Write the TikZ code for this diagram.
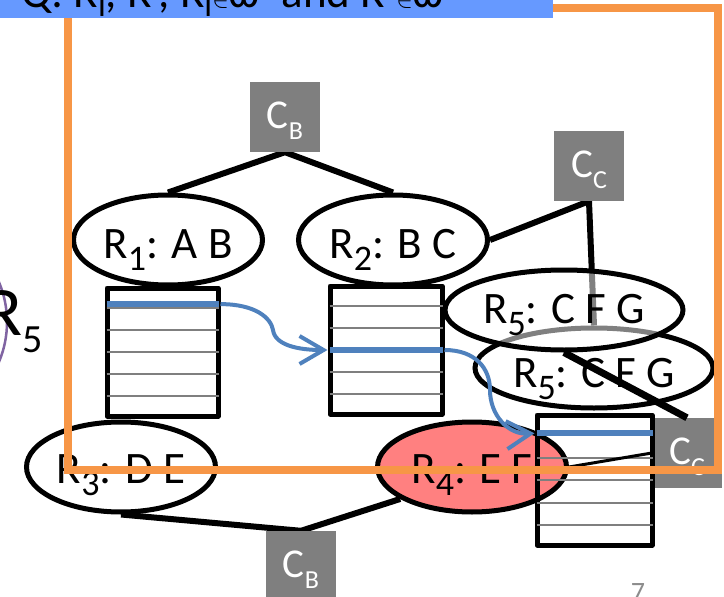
\documentclass[tikz,border=0pt]{standalone}
\usepackage{fontspec}
\setmainfont{Carlito}
\usetikzlibrary{shapes.geometric,arrows.meta,calc}

\definecolor{boxgray}{RGB}{127,127,127}
\definecolor{flowblue}{RGB}{79,129,189}
\definecolor{bannerblue}{RGB}{102,153,255}
\definecolor{frameorange}{RGB}{247,150,70}
\definecolor{relred}{RGB}{255,128,128}
\definecolor{arcpurple}{RGB}{128,100,162}
\definecolor{pagegray}{RGB}{140,140,140}

\pgfdeclarelayer{back}
\pgfsetlayers{back,main}

% relation label: baseline offset, subscript, attributes
\newcommand{\rlab}[3]{\makebox[0pt][c]{\raisebox{-#1}[0pt][0pt]{R\raisebox{-12pt}{\fontsize{36}{36}\selectfont #2}: #3}}}
% separator label C with subscript
\newcommand{\clab}[1]{\makebox[0pt][c]{\raisebox{-11pt}[0pt][0pt]{C\raisebox{-11pt}{\fontsize{26}{26}\selectfont #1}}}}

\begin{document}
\begin{tikzpicture}[x=1pt,y=-1pt,
  rel/.style={ellipse, draw=black, line width=5pt, fill=white, inner sep=0pt,
    minimum width=189pt, minimum height=90pt, font=\fontsize{45}{45}\selectfont},
  relwide/.style={rel, minimum width=238pt, minimum height=80pt},
  cbox/.style={rectangle, fill=boxgray, inner sep=0pt, minimum size=70pt,
    text=white, font=\fontsize{41}{41}\selectfont},
  edge/.style={draw=black, line width=6pt},
  tbl/.style={rectangle, draw=black, line width=5pt, inner sep=0pt, line join=round},
  rowline/.style={draw=boxgray, line width=2pt, shorten <=2pt, shorten >=2pt},
  bluerow/.style={draw=flowblue, line width=6pt, shorten <=2pt, shorten >=2pt},
  flow/.style={draw=flowblue, line width=4pt,
    -{Straight Barb[length=24pt,width=28pt]}},
]
\useasboundingbox (0,0) rectangle (724,597);

% partially visible relation on the left
\node[ellipse, draw=arcpurple, line width=2.5pt, inner sep=0pt,
  minimum width=194pt, minimum height=200pt] (R5left) at (-90,322) {};
\node[anchor=base west, inner sep=0pt, font=\fontsize{70}{70}\selectfont]
  (bigR) at (-16,335) {R\raisebox{-17pt}{\fontsize{40}{40}\selectfont 5}};

% separators
\node[cbox] (CBt) at (285,117) {\clab{B}};
\node[cbox] (CCt) at (589,166) {\clab{C}};
\node[cbox] (CBb) at (301,566) {\clab{B}};
\node[cbox] (CCr) at (687,453) {\clab{C}};

% relations
\node[rel] (R1) at (168,240) {\rlab{18pt}{1}{A B}};
\node[rel] (R2) at (393,240) {\rlab{18pt}{2}{B C}};
\node[rel] (R3) at (121,467) {\rlab{16pt}{3}{D E}};

% tuple tables
\node[tbl, fill=white, minimum width=111pt, minimum height=128pt] (T1) at (162.5,352) {};
\node[tbl, fill=white, minimum width=112pt, minimum height=128pt] (T2) at (386,350) {};
\foreach \t in {T1,T2}{
  \foreach \k in {1,...,5}{
    \draw[rowline] ($(\t.north west)!\k/6!(\t.south west)$) -- ($(\t.north east)!\k/6!(\t.south east)$);
  }
}

\node[rel] (R5b) at (594,368) [relwide] {\rlab{19pt}{5}{C F G}};
\node[rel] (R5a) at (564,310) [relwide, fill opacity=0.5, text opacity=1, draw opacity=1] {\rlab{13pt}{5}{C F G}};

\node[rel, fill=relred] (R4) at (472,467) {\rlab{16pt}{4}{E F}};

% table over R4, left unfilled
\node[tbl, minimum width=115pt, minimum height=130pt] (T3) at (594.5,480) {};
\foreach \k in {1,...,5}{
  \draw[rowline] ($(T3.north west)!\k/6!(T3.south west)$) -- ($(T3.north east)!\k/6!(T3.south east)$);
}

% highlighted tuples and their links
\coordinate (T1bw) at ($(T1.north west)!0.14!(T1.south west)$);
\coordinate (T1be) at ($(T1.north east)!0.14!(T1.south east)$);
\coordinate (T2bw) at ($(T2.north west)!0.5!(T2.south west)$);
\coordinate (T2be) at ($(T2.north east)!0.5!(T2.south east)$);
\coordinate (T3bw) at ($(T3.north west)!0.154!(T3.south west)$);
\coordinate (T3be) at ($(T3.north east)!0.154!(T3.south east)$);
\draw[bluerow] (T1bw) -- (T1be);
\draw[bluerow] (T2bw) -- (T2be);
\draw[bluerow] (T3bw) -- (T3be);
\draw[flow] (T1be) .. controls +(35,0) and +(-2,-12) .. (273,330)
  .. controls +(2,15) and +(-30,0) .. (T2bw);
\draw[flow] (T2be) .. controls (475,350) and (490,368) .. (490,390)
  .. controls (490,415) and (508,435) .. (T3bw);

\draw[draw=black, line width=3pt] (R4.east) -- (CCr.west);
\draw[draw=black, line width=7pt] (R5a.south) -- (CCr.north);

% tree edges underneath the nodes
\begin{pgfonlayer}{back}
\draw[edge] (R1.north) -- (CBt.south) -- (R2.north);
\draw[edge] (R2.east) -- (CCt.south) -- (R5b.north);
\draw[edge] (R3.south) -- (CBb.north) -- (R4.204);
\end{pgfonlayer}

% frame and heading strip
\draw[frameorange, line width=8pt] (68,8) rectangle (718,470);
\fill[bannerblue] (0,-40) rectangle (553,18);
\node[anchor=base west, inner sep=0pt, font=\fontsize{45}{45}\selectfont] (qtext) at (21,8)
  {Q: R\raisebox{-9pt}{\fontsize{34}{34}\selectfont i}, R’, R\raisebox{-9pt}{\fontsize{34}{34}\selectfont i}$\in$ω’ and R’$\in$ω};

\node[anchor=base, inner sep=0pt, text=pagegray, font=\fontsize{28}{28}\selectfont] (pageno) at (638,601) {7};
\end{tikzpicture}
\end{document}
